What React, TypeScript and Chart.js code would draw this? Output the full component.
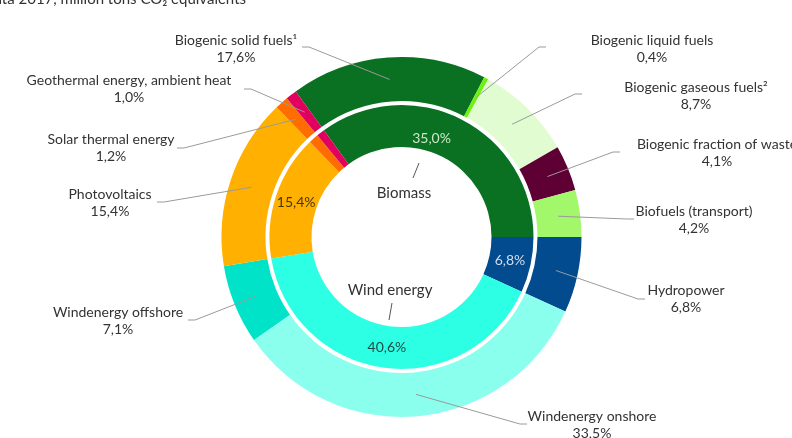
import React, { useEffect, useRef } from "react";
import { Chart, registerables } from "chart.js";

Chart.register(...registerables);

// ---------- data ----------
const outerLabels = [
  "Biogenic solid fuels¹",
  "Biogenic liquid fuels",
  "Biogenic gaseous fuels²",
  "Biogenic fraction of waste",
  "Biofuels (transport)",
  "Hydropower",
  "Windenergy onshore",
  "Windenergy offshore",
  "Photovoltaics",
  "Solar thermal energy",
  "Geothermal energy, ambient heat",
];
const outerValues = [17.6, 0.4, 8.7, 4.1, 4.2, 6.8, 33.5, 7.1, 15.4, 1.2, 1.0];

const innerLabels = [
  "Biomass",
  "Hydropower",
  "Wind energy",
  "Photovoltaics",
  "Solar thermal energy",
  "Geothermal energy, ambient heat",
];
const innerValues = [35.0, 6.8, 40.6, 15.4, 1.2, 1.0];

const titleText = "Avoided emissions, data 2017, million tons CO₂ equivalents";

// ---------- styles ----------
const outerColors = [
  "#0A7123",
  "#6CF20C",
  "#E1FCD0",
  "#5E0033",
  "#A3F76B",
  "#014B8E",
  "#8BFFEE",
  "#00E3C9",
  "#FFB000",
  "#FF6D00",
  "#E2005E",
];
const innerColors = ["#0A7123", "#014B8E", "#2DFFE5", "#FFB000", "#FF6D00", "#E2005E"];
const innerValueColors = ["#CDE8C8", "#D3DDEE", "#1D4A45", "#4A3600", "", ""];
const innerValueShow = [true, true, true, true, false, false];
const innerValueFraction = [0.42, 0.5, 0.5, 0.5, 0.5, 0.5];
const innerValueRadial = [0.93, 1, 1, 1, 1, 1];

// label layout: text centre x, first line y, line start (lx, ly) at text side
const outerLabelPos = [
  { x: 236, y: 40, lx: 302, ly: 47 },
  { x: 652, y: 40, lx: 546, ly: 47 },
  { x: 696, y: 87, lx: 582, ly: 94 },
  { x: 717, y: 144, lx: 620, ly: 152 },
  { x: 694, y: 211, lx: 634, ly: 219 },
  { x: 686, y: 290, lx: 645, ly: 299 },
  { x: 592, y: 416, lx: 527, ly: 424 },
  { x: 118, y: 312, lx: 188, ly: 320 },
  { x: 110, y: 194, lx: 157, ly: 202 },
  { x: 111, y: 139, lx: 177, ly: 148 },
  { x: 129, y: 80, lx: 244, ly: 89 },
];
const innerNamePos = [
  { idx: 0, x: 404, y: 193, l: [413, 178, 419, 163] },
  { idx: 2, x: 390, y: 290, l: [392, 303, 389, 320] },
];

const FONT = "Lato, 'Noto Sans', sans-serif";
const TEXT = "#333333";
const LINE = "#9a9a9a";

const fmt = (v: number) => v.toFixed(1).replace(".", ",") + "%";

const labelPlugin = {
  id: "ringLabels",
  afterDatasetsDraw(chart: any) {
    const ctx: CanvasRenderingContext2D = chart.ctx;
    ctx.save();
    // title (cut off at top)
    ctx.font = `15px ${FONT}`;
    ctx.fillStyle = TEXT;
    ctx.textAlign = "right";
    ctx.textBaseline = "alphabetic";
    ctx.fillText(titleText, 246, 4);

    // outer labels + leader lines
    const outerMeta = chart.getDatasetMeta(0);
    outerMeta.data.forEach((arc: any, i: number) => {
      const p = outerLabelPos[i];
      const a = arc.tooltipPosition(true);
      const sx = p.lx + (a.x > p.lx ? 7 : -7);
      ctx.strokeStyle = LINE;
      ctx.lineWidth = 1;
      ctx.beginPath();
      ctx.moveTo(p.lx, p.ly);
      ctx.lineTo(sx, p.ly);
      ctx.lineTo(a.x, a.y);
      ctx.stroke();
      ctx.fillStyle = TEXT;
      ctx.textAlign = "center";
      ctx.textBaseline = "middle";
      ctx.font = `14px ${FONT}`;
      ctx.fillText(outerLabels[i], p.x, p.y);
      ctx.fillText(fmt(outerValues[i]), p.x, p.y + 17);
    });

    // inner values
    const innerMeta = chart.getDatasetMeta(2);
    innerMeta.data.forEach((arc: any, i: number) => {
      if (!innerValueShow[i]) return;
      const cx = arc.x;
      const cy = arc.y;
      const s = arc.startAngle;
      const e = arc.endAngle;
      const ang = s + (e - s) * innerValueFraction[i];
      const r = ((arc.innerRadius + arc.outerRadius) / 2) * innerValueRadial[i];
      const x = cx + Math.cos(ang) * r;
      const y = cy + Math.sin(ang) * r;
      ctx.fillStyle = innerValueColors[i];
      ctx.font = `14px ${FONT}`;
      ctx.textAlign = "center";
      ctx.textBaseline = "middle";
      ctx.fillText(fmt(innerValues[i]), x, y);
    });

    // inner group names
    innerNamePos.forEach((n) => {
      ctx.fillStyle = TEXT;
      ctx.font = `15px ${FONT}`;
      ctx.textAlign = "center";
      ctx.textBaseline = "middle";
      ctx.fillText(innerLabels[n.idx], n.x, n.y);
      ctx.strokeStyle = "#555";
      ctx.lineWidth = 1;
      ctx.beginPath();
      ctx.moveTo(n.l[0], n.l[1]);
      ctx.lineTo(n.l[2], n.l[3]);
      ctx.stroke();
    });
    ctx.restore();
  },
};

export default function App() {
  const ref = useRef<HTMLCanvasElement>(null);
  useEffect(() => {
    if (!ref.current) return;
    const chart = new Chart(ref.current, {
      type: "doughnut",
      data: {
        labels: outerLabels,
        datasets: [
          {
            data: outerValues,
            backgroundColor: outerColors,
            borderWidth: 0,
            weight: 44,
          },
          {
            data: [1],
            backgroundColor: ["rgba(0,0,0,0)"],
            borderWidth: 0,
            weight: 4,
          },
          {
            data: innerValues,
            backgroundColor: innerColors,
            borderWidth: 0,
            weight: 42,
          },
        ],
      },
      options: {
        responsive: false,
        animation: false,
        devicePixelRatio: 1,
        rotation: -36,
        cutout: 90,
        radius: 180,
        layout: { padding: { left: 221, right: 210, top: 57, bottom: 21 } },
        plugins: {
          legend: { display: false },
          tooltip: { enabled: false },
          title: { display: false },
        },
      } as any,
      plugins: [labelPlugin],
    });
    return () => chart.destroy();
  }, []);
  return (
    <div style={{ position: "fixed", left: 0, top: 0, width: 792, height: 438, background: "#fff" }}>
      <canvas ref={ref} width={792} height={438} style={{ width: 792, height: 438, display: "block" }} />
    </div>
  );
}
